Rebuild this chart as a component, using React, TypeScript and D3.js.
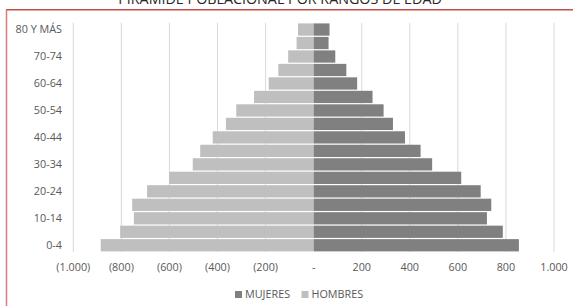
import React from "react";
import * as d3 from "d3";

const ageGroups = ["0-4","5-9","10-14","15-19","20-24","25-29","30-34","35-39","40-44","45-49","50-54","55-59","60-64","65-69","70-74","75-79","80 Y MÁS"];
const mujeres = [854,787,721,739,695,614,493,445,380,330,291,245,181,136,90,62,66];
const hombres = [886,805,748,755,693,601,503,472,420,365,322,248,187,147,106,71,65];
const xTicks = [-1000,-800,-600,-400,-200,0,200,400,600,800,1000];
const title = "PIRÁMIDE POBLACIONAL POR RANGOS DE EDAD";

const W = 573, H = 306;
const font = "'Open Sans', 'Noto Sans', sans-serif";

function fmt(v: number) {
  if (v === 0) return "-";
  const s = Math.abs(v).toString().replace(/\B(?=(\d{3})+(?!\d))/g, ".");
  return v < 0 ? `(${s})` : s;
}

export default function App() {
  const x = d3.scaleLinear().domain([-1000, 1000]).range([73.3, 554]);
  const y = d3.scaleBand<string>().domain([...ageGroups].reverse()).range([22.8, 252]).paddingInner(0.09).paddingOuter(0.045);
  const x0 = x(0);
  return (
    <svg width={W} height={H} style={{ position: "absolute", left: 0, top: 0 }}>
      <rect x={0} y={0} width={W} height={H} fill="#fff" />
      <text x={280} y={3.6} textAnchor="middle" fontFamily={font} fontSize={14.3} fill="#262626">{title}</text>
      <line x1={6} x2={W} y1={9.8} y2={9.8} stroke="#c0504d" strokeWidth={1.5} />
      <line x1={6.5} x2={6.5} y1={9.5} y2={H} stroke="#e07b7b" strokeWidth={1.5} />
      {xTicks.filter(t => t !== 0).map(t => (
        <line key={t} x1={x(t)} x2={x(t)} y1={22.8} y2={252} stroke="#d9d9d9" strokeWidth={1} />
      ))}
      {ageGroups.map((g, i) => (
        <g key={g}>
          <rect x={x(-hombres[i])} y={y(g)} width={x0 - x(-hombres[i])} height={y.bandwidth()} fill="#bfbfbf" />
          <rect x={x0} y={y(g)} width={x(mujeres[i]) - x0} height={y.bandwidth()} fill="#808080" />
        </g>
      ))}
      {ageGroups.map((g, i) => i % 2 === 0 ? (
        <text key={g} x={62} y={(y(g) as number) + y.bandwidth() / 2 + 3.9} textAnchor="end" fontFamily={font} fontSize={10.8} fill="#595959">{g}</text>
      ) : null)}
      {xTicks.map(t => (
        <text key={t} x={x(t)} y={271} textAnchor="middle" fontFamily={font} fontSize={10.8} fill="#595959">{fmt(t)}</text>
      ))}
      <rect x={235} y={291} width={7} height={7} fill="#808080" />
      <text x={245} y={298} fontFamily={font} fontSize={10.8} fill="#595959">MUJERES</text>
      <rect x={301.5} y={291} width={7} height={7} fill="#bfbfbf" />
      <text x={311.5} y={298} fontFamily={font} fontSize={10.8} fill="#595959">HOMBRES</text>
    </svg>
  );
}
